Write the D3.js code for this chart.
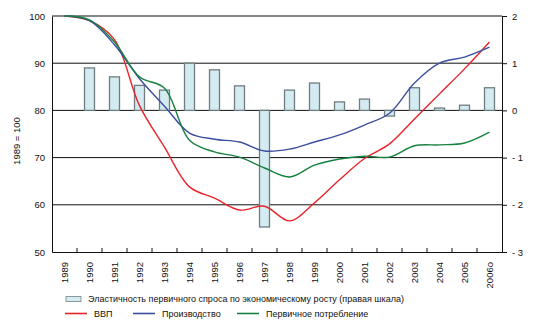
<!DOCTYPE html>
<html>
<head>
<meta charset="utf-8">
<script src="https://cdn.jsdelivr.net/npm/d3@7"></script>
<style>
  body { margin: 0; background: #fff; }
  svg text { font-family: "Liberation Sans", Arial, sans-serif; fill: #111; }
</style>
</head>
<body>
<div id="chart"></div>
<script>
/* Data
======================================================================= */
var years = ['1989', '1990', '1991', '1992', '1993', '1994', '1995', '1996', '1997',
             '1998', '1999', '2000', '2001', '2002', '2003', '2004', '2005', '2006о'];

// Index, 1989 = 100 (left scale)
var gdp = [100, 99.0, 95.0, 81.0, 72.2, 63.8, 61.4, 58.9, 59.7,
           56.6, 60.4, 65.3, 69.8, 72.9, 78.2, 83.5, 88.8, 94.5];
var production = [100, 99.0, 93.9, 86.7, 80.9, 75.2, 73.9, 73.3, 71.4,
                  71.8, 73.3, 74.8, 76.9, 79.4, 85.8, 90.0, 91.3, 93.4];
var consumption = [100, 99.2, 94.5, 87.1, 84.7, 73.7, 71.2, 70.1, 67.8,
                   65.9, 68.4, 69.7, 70.3, 70.1, 72.5, 72.7, 73.1, 75.4];

// Elasticity (right scale), no bar for 1989
var elasticity = [null, 0.90, 0.71, 0.53, 0.43, 1.00, 0.86, 0.52, -2.47,
                  0.43, 0.58, 0.18, 0.24, -0.12, 0.48, 0.05, 0.11, 0.48];

var leftTicks = [50, 60, 70, 80, 90, 100];
var rightTicks = [-3, -2, -1, 0, 1, 2];

var series = [
  { name: 'ВВП', values: gdp, color: '#e8242a' },
  { name: 'Производство', values: production, color: '#3c4ea0' },
  { name: 'Первичное потребление', values: consumption, color: '#17823f' }
];

/* Layout
======================================================================= */
var W = 535, H = 332,
    m = { top: 16, left: 52, right: 33, bottom: 80 },
    w = W - m.left - m.right,
    h = H - m.top - m.bottom;

var svg = d3.select('#chart').append('svg')
    .attr('width', W)
    .attr('height', H);

var g = svg.append('g').attr('transform', 'translate(' + m.left + ',' + m.top + ')');

var x = d3.scaleBand().domain(years).range([0, w]);
var yL = d3.scaleLinear().domain([50, 100]).range([h, 0]);
var yR = d3.scaleLinear().domain([-3, 2]).range([h, 0]);

/* Grid
======================================================================= */
g.selectAll('.grid').data(leftTicks.filter(function(d) { return d > 50; }))
  .enter().append('line')
    .attr('x1', 0).attr('x2', w)
    .attr('y1', function(d) { return yL(d); })
    .attr('y2', function(d) { return yL(d); })
    .attr('stroke', '#111').attr('stroke-width', 1);

/* Bars
======================================================================= */
var barW = 10;
g.selectAll('.bar').data(elasticity.map(function(v, i) { return { year: years[i], v: v }; })
      .filter(function(d) { return d.v !== null; }))
  .enter().append('rect')
    .attr('x', function(d) { return x(d.year) + x.bandwidth() / 2 - barW / 2; })
    .attr('y', function(d) { return Math.min(yR(d.v), yR(0)); })
    .attr('width', barW)
    .attr('height', function(d) { return Math.abs(yR(d.v) - yR(0)); })
    .attr('fill', '#d3ebf1')
    .attr('stroke', '#6f7d80')
    .attr('stroke-width', 1.3);

/* Lines
======================================================================= */
var line = d3.line()
    .x(function(d, i) { return x(years[i]) + x.bandwidth() / 2; })
    .y(function(d) { return yL(d); })
    .curve(d3.curveCatmullRom.alpha(0.5));

series.forEach(function(s) {
  g.append('path')
    .datum(s.values)
    .attr('d', line)
    .attr('fill', 'none')
    .attr('stroke', s.color)
    .attr('stroke-width', 1.4);
});

/* Axes
======================================================================= */
var axL = g.append('g')
    .call(d3.axisLeft(yL).tickValues(leftTicks).tickSize(0).tickPadding(7));
axL.select('.domain').attr('stroke', '#111');

var axR = g.append('g')
    .attr('transform', 'translate(' + w + ',0)')
    .call(d3.axisRight(yR).tickValues(rightTicks).tickSize(5).tickPadding(5)
      .tickFormat(function(d) { return d < 0 ? '- ' + Math.abs(d) : d; }));
axR.select('.domain').attr('stroke', '#111');

var axB = g.append('g')
    .attr('transform', 'translate(0,' + h + ')')
    .call(d3.axisBottom(x).tickSize(0).tickPadding(0));
axB.select('.domain').attr('stroke', '#111');

// inward tick marks at category boundaries
g.selectAll('.xt').data(years.slice(1))
  .enter().append('line')
    .attr('x1', function(d) { return x(d); })
    .attr('x2', function(d) { return x(d); })
    .attr('y1', h).attr('y2', h - 4)
    .attr('stroke', '#111');

axB.selectAll('text')
    .attr('transform', 'rotate(-90)')
    .attr('text-anchor', 'end')
    .attr('x', -10)
    .attr('y', 0)
    .attr('dy', '0.35em');

[axL, axR, axB].forEach(function(a) {
  a.selectAll('text').style('font-size', '9.5px').attr('fill', '#111');
  a.selectAll('.tick line').attr('stroke', '#111');
});

// Y title
svg.append('text')
    .attr('transform', 'translate(20,141) rotate(-90)')
    .attr('text-anchor', 'middle')
    .style('font-size', '9.5px')
    .text('1989 = 100');

/* Legend
======================================================================= */
var lg = svg.append('g');
lg.append('rect')
    .attr('x', 66).attr('y', 296.5).attr('width', 15).attr('height', 5)
    .attr('fill', '#d3ebf1').attr('stroke', '#8a989b').attr('stroke-width', 1);
lg.append('text')
    .attr('x', 88).attr('y', 302)
    .style('font-size', '9px')
    .text('Эластичность первичного спроса по экономическому росту (правая шкала)');

var legX = [65, 133, 237];
series.forEach(function(s, i) {
  lg.append('line')
    .attr('x1', legX[i]).attr('x2', legX[i] + 22)
    .attr('y1', 313.5).attr('y2', 313.5)
    .attr('stroke', s.color).attr('stroke-width', 1.6);
  lg.append('text')
    .attr('x', legX[i] + 29).attr('y', 317)
    .style('font-size', '9px')
    .text(s.name);
});
</script>
</body>
</html>
